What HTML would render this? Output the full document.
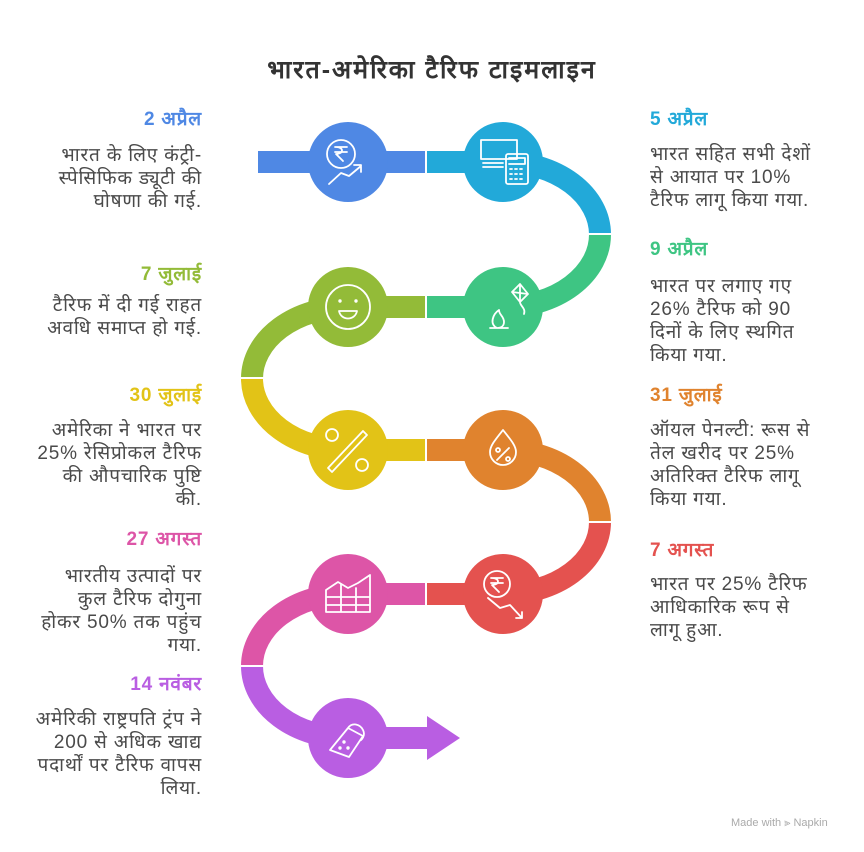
<!DOCTYPE html>
<html><head><meta charset="utf-8"><style>
body{margin:0;width:864px;height:852px;background:#fff;position:relative;overflow:hidden;font-family:"Liberation Sans","DejaVu Sans",sans-serif;}
.t{position:absolute;font-size:19px;line-height:23px;color:#4a4a4a;letter-spacing:0.8px;white-space:nowrap;}
.l{right:662px;text-align:right;}
.r{left:650px;text-align:left;}
.d{font-weight:bold;font-size:19px;}
svg{position:absolute;left:0;top:0;}
</style></head><body>
<svg width="864" height="852" viewBox="0 0 864 852">
<g stroke-width="22" fill="none">
<rect x="258" y="151" width="167" height="22" fill="#4f88e4" stroke="none"/>
<rect x="427" y="151" width="76" height="22" fill="#22a9d9" stroke="none"/>
<path d="M503 162 A97 72.5 0 0 1 600 234.5" stroke="#22a9d9"/>
<path d="M600 234.5 A97 72.5 0 0 1 503 307" stroke="#3ec583"/>
<rect x="427" y="296" width="76" height="22" fill="#3ec583" stroke="none"/>
<rect x="348" y="296" width="77" height="22" fill="#93bb38" stroke="none"/>
<path d="M348 307 A96 71.5 0 0 0 252 378.5" stroke="#93bb38"/>
<path d="M252 378.5 A96 71.5 0 0 0 348 450" stroke="#e2c317"/>
<rect x="348" y="439" width="77" height="22" fill="#e2c317" stroke="none"/>
<rect x="427" y="439" width="76" height="22" fill="#e0832e" stroke="none"/>
<path d="M503 450 A97 72 0 0 1 600 522" stroke="#e0832e"/>
<path d="M600 522 A97 72 0 0 1 503 594" stroke="#e4524f"/>
<rect x="427" y="583" width="76" height="22" fill="#e4524f" stroke="none"/>
<rect x="348" y="583" width="77" height="22" fill="#dd55a7" stroke="none"/>
<path d="M348 594 A96 72 0 0 0 252 666" stroke="#dd55a7"/>
<path d="M252 666 A96 72 0 0 0 348 738" stroke="#b95ee2"/>
<rect x="348" y="727" width="82" height="22" fill="#b95ee2" stroke="none"/>
<polygon points="427,716 460,738 427,760" fill="#b95ee2" stroke="none"/>
</g>
<g fill="#fff">
<rect x="588" y="233" width="25" height="2"/>
<rect x="240" y="377" width="25" height="2"/>
<rect x="588" y="521" width="25" height="2"/>
<rect x="240" y="665" width="25" height="2"/>
</g>
<circle cx="348" cy="162" r="40" fill="#4f88e4"/>
<circle cx="503" cy="162" r="40" fill="#22a9d9"/>
<circle cx="503" cy="307" r="40" fill="#3ec583"/>
<circle cx="348" cy="307" r="40" fill="#93bb38"/>
<circle cx="348" cy="450" r="40" fill="#e2c317"/>
<circle cx="503" cy="450" r="40" fill="#e0832e"/>
<circle cx="503" cy="594" r="40" fill="#e4524f"/>
<circle cx="348" cy="594" r="40" fill="#dd55a7"/>
<circle cx="348" cy="738" r="40" fill="#b95ee2"/>
<g stroke="#fff" stroke-width="1.8" fill="none" stroke-linecap="round" stroke-linejoin="round">
<circle cx="341" cy="154" r="14"/><path d="M335 147h12M335 152h12M336 147c8 0 8 7 0 7l7 7"/><path d="M329 184l12-11 8 3 12-10M354 165h7v7"/>
<rect x="481" y="140" width="36" height="19"/><rect x="506" y="154" width="22" height="30" rx="2"/><path d="M509 158h16v6h-16M510 169h2M515 169h2M520 169h2M510 174h2M515 174h2M520 174h2M510 179h2M515 179h2M520 179h2M483 163h20M483 167h20"/>
<circle cx="348" cy="307" r="22"/><circle cx="340" cy="301" r="0.8"/><circle cx="356" cy="301" r="0.8"/><path d="M339 311h18c-2 10-16 10-18 0z"/>
<path d="M490 328l18 0M497 328c-8-4-4-14 2-18 0 5 5 6 5 12 0 4-3 6-7 6z"/><path d="M512 292l8-8 8 10-8 8zM512 292l16 2M520 284v18M520 302c0 4 6 6 4 12"/>
<circle cx="332" cy="435" r="6"/><circle cx="362" cy="465" r="6"/><path d="M328 468l35-37 4 4-35 37z"/>
<path d="M503 430c-8 10-13 16-13 22a13 13 0 0 0 26 0c0-6-5-12-13-22z"/><circle cx="498" cy="450" r="2"/><circle cx="508" cy="459" r="2"/><path d="M497 460l12-12"/>
<circle cx="497" cy="584" r="13"/><path d="M491 578h12M491 583h12M492 578c8 0 8 7 0 7l7 7"/><path d="M488 598l12 10 10-3 12 13M516 618h6v-6"/>
<path d="M326 612v-22l12-8 10 6 10-5 12-8v37zM326 597h44M326 605h44M341 584v28M356 588v24"/>
<path d="M330 750l18-22 15 8-14 21zM348 728c4-6 12-4 15 2 3 6-2 10-2 10"/><circle cx="344" cy="742" r="0.8"/><circle cx="340" cy="748" r="0.8"/><circle cx="348" cy="748" r="0.8"/>
</g>
</svg>
<div style="position:absolute;left:0;width:864px;top:52px;text-align:center;font-size:25px;font-weight:bold;color:#333;letter-spacing:2px;">भारत-अमेरिका टैरिफ टाइमलाइन</div>

<div class="t l d" style="top:108px;color:#4f88e4">2 अप्रैल</div>
<div class="t l" style="top:144px">भारत के लिए कंट्री-<br>स्पेसिफिक ड्यूटी की<br>घोषणा की गई.</div>
<div class="t l d" style="top:263px;color:#93bb38">7 जुलाई</div>
<div class="t l" style="top:294px">टैरिफ में दी गई राहत<br>अवधि समाप्त हो गई.</div>
<div class="t l d" style="top:384px;color:#e2c317">30 जुलाई</div>
<div class="t l" style="top:419px">अमेरिका ने भारत पर<br>25% रेसिप्रोकल टैरिफ<br>की औपचारिक पुष्टि<br>की.</div>
<div class="t l d" style="top:528px;color:#dd55a7">27 अगस्त</div>
<div class="t l" style="top:565px">भारतीय उत्पादों पर<br>कुल टैरिफ दोगुना<br>होकर 50% तक पहुंच<br>गया.</div>
<div class="t l d" style="top:673px;color:#b95ee2">14 नवंबर</div>
<div class="t l" style="top:708px">अमेरिकी राष्ट्रपति ट्रंप ने<br>200 से अधिक खाद्य<br>पदार्थों पर टैरिफ वापस<br>लिया.</div>

<div class="t r d" style="top:108px;color:#22a9d9">5 अप्रैल</div>
<div class="t r" style="top:143px">भारत सहित सभी देशों<br>से आयात पर 10%<br>टैरिफ लागू किया गया.</div>
<div class="t r d" style="top:238px;color:#3ec583">9 अप्रैल</div>
<div class="t r" style="top:275px">भारत पर लगाए गए<br>26% टैरिफ को 90<br>दिनों के लिए स्थगित<br>किया गया.</div>
<div class="t r d" style="top:384px;color:#e0832e">31 जुलाई</div>
<div class="t r" style="top:419px">ऑयल पेनल्टी: रूस से<br>तेल खरीद पर 25%<br>अतिरिक्त टैरिफ लागू<br>किया गया.</div>
<div class="t r d" style="top:539px;color:#e4524f">7 अगस्त</div>
<div class="t r" style="top:573px">भारत पर 25% टैरिफ<br>आधिकारिक रूप से<br>लागू हुआ.</div>

<div style="position:absolute;left:731px;top:817px;font-size:11px;color:#aaa;">Made with ⫸ Napkin</div>
</body></html>
